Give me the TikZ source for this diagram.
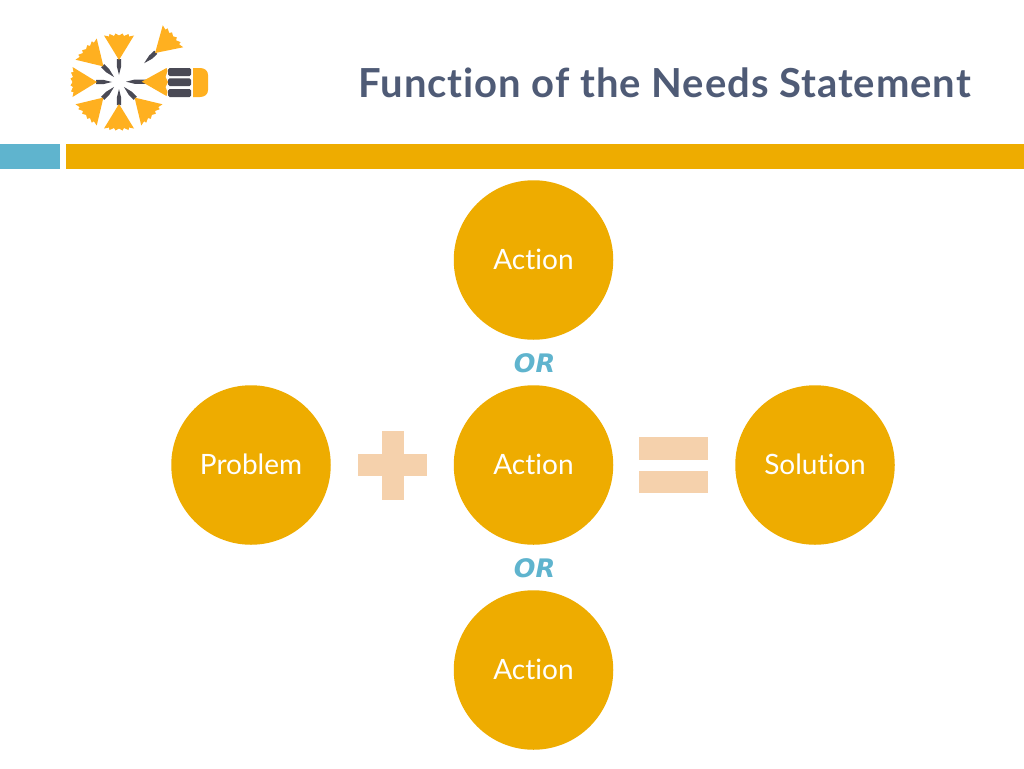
\documentclass[tikz,border=0pt]{standalone}
\usepackage{fontspec}
\setmainfont[Ligatures=NoCommon]{Lato}
\newfontfamily\titlefont[Ligatures=NoCommon,LetterSpace=2.35]{Lato}
\newfontfamily\orfont{DejaVu Sans}
\definecolor{gold}{HTML}{EEAC00}
\definecolor{sky}{HTML}{5FB4CE}
\definecolor{peach}{HTML}{F5D1AC}
\definecolor{slate}{HTML}{4F5B76}
\definecolor{logoy}{HTML}{FFB020}
\definecolor{logog}{HTML}{4A4A55}
\tikzset{
  disc/.style={circle,fill=gold,text=white,minimum size=159.5pt,inner sep=0pt,font=\fontsize{28}{30}\selectfont},
  orlabel/.style={text=sky,inner sep=0pt,font=\orfont\bfseries\itshape\fontsize{25.5}{28}\selectfont},
  peachbar/.style={fill=peach,draw=none}
}
% pencil pointing to (#2,#3); #1 is its outward angle
\newcommand{\sharpened}[3]{%
  \begin{scope}[shift={(#2,#3)},rotate=#1,y=1pt,x=1pt]
      \fill[logog] (7,0) -- (16,-2.2) -- (23,-2.2) -- (23,2.2) -- (16,2.2) -- cycle;
      \fill[logoy] (22,0) -- (46.5,-15) -- (45.5,-10) -- (48,-9.5) -- (46,-5) -- (48.5,-3.5) -- (46.5,0) -- (48.5,3.5) -- (46,5) -- (48,9.5) -- (45.5,10) -- (46.5,15) -- cycle;
  \end{scope}}
\begin{document}
\begin{tikzpicture}[x=1pt,y=-1pt]
\useasboundingbox (0,0) rectangle (1024,768);
\fill[white] (0,0) rectangle (1024,768);
% logo
\foreach \a in {90,135,180,225,270,315}{\sharpened{\a}{119}{82}}
\sharpened{43}{139}{68}
% header
\fill[sky] (0,144) rectangle (59.5,168.5);
\fill[gold] (66,144) rectangle (1024,168.5);
\node[anchor=east,inner sep=0pt,text=slate,font=\titlefont\bfseries\fontsize{40}{44}\selectfont] (title) at (971,83) {Function of the Needs Statement};
% circles
\node[disc] (a1) at (533.5,260) {\raisebox{1pt}{Action}};
\node[disc] (a2) at (533.5,465) {\raisebox{1pt}{Action}};
\node[disc] (a3) at (533.5,670) {\raisebox{1pt}{Action}};
\node[disc] (p) at (251,465) {\raisebox{1pt}{Problem}};
\node[disc] (s) at (815,465) {\raisebox{1pt}{Solution}};
\node[orlabel] (or1) at (534.5,363) {OR};
\node[orlabel] (or2) at (534.5,568) {OR};
% plus and equals
\fill[peachbar] (381.5,431) rectangle (403.5,499.5);
\fill[peachbar] (358,454) rectangle (427,476);
\fill[peachbar] (639,437) rectangle (708,459.5);
\fill[peachbar] (639,471) rectangle (708,493);
% right-hand pencil
\fill[logog] (126,81.7) -- (135,79.5) -- (146,79.5) -- (146,83.9) -- (135,83.9) -- cycle;
\fill[logoy] (141.7,81.7) -- (166.5,68) -- (167.5,71) -- (165.5,77) -- (168,82) -- (165.5,87) -- (167.5,92) -- (166.5,96) -- cycle;
\fill[logog,rounded corners=1.5pt] (168,68) rectangle (191,76);
\fill[logog,rounded corners=1.5pt] (168,78.3) rectangle (191,86);
\fill[logog,rounded corners=1.5pt] (168,89) rectangle (191,97);
\fill[logoy] (193,68) -- (200,68) .. controls (205,68) and (208,71) .. (208,75) -- (208,90) .. controls (208,94) and (205,97) .. (200,97) -- (193,97) -- cycle;
\end{tikzpicture}
\end{document}
